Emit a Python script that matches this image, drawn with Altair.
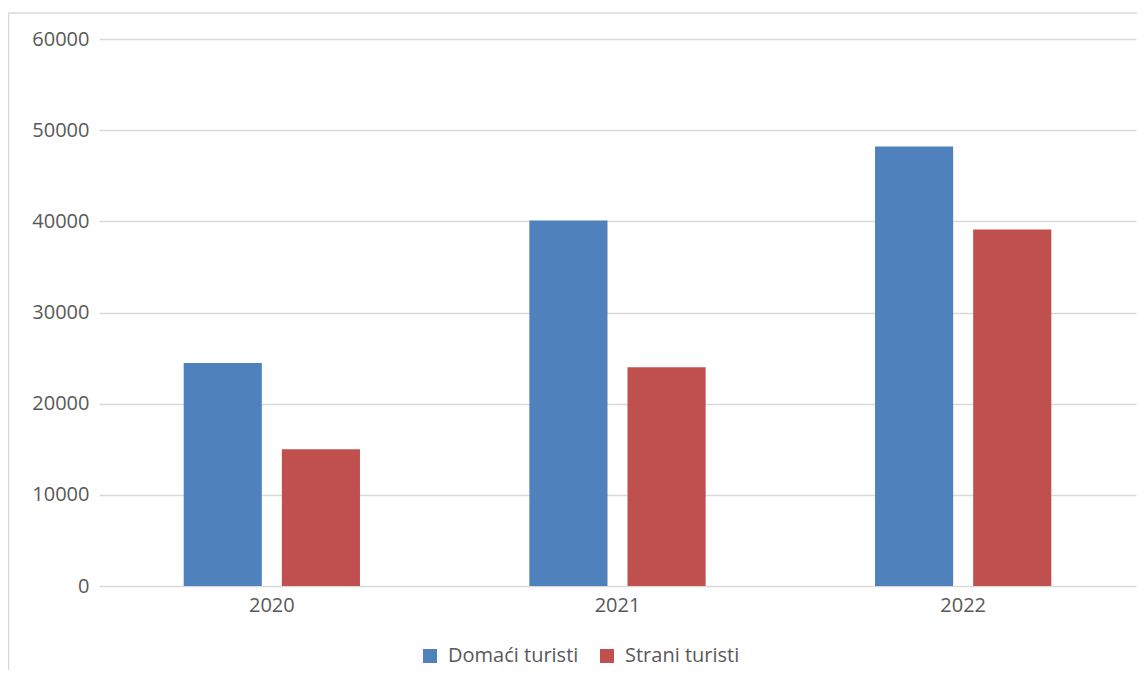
import altair as alt
import pandas as pd

years = ["2020", "2021", "2022"]
series = ["Domaći turisti", "Strani turisti"]
domaci = [24450, 40100, 48200]
strani = [15000, 24000, 39100]
colors = ["#4F81BD", "#C0504D"]

rows = []
for i, y in enumerate(years):
    rows.append({"godina": y, "serija": series[0], "vrijednost": domaci[i]})
    rows.append({"godina": y, "serija": series[1], "vrijednost": strani[i]})
df = pd.DataFrame(rows)

FONT = "Open Sans"
TXT = "#595959"
GRID = "#d9d9d9"
FS = 20
LFS = 20

bars = alt.Chart(df).mark_bar().encode(
    x=alt.X("godina:N", sort=years, title=None,
            scale=alt.Scale(paddingInner=0.49, paddingOuter=0.245),
            axis=alt.Axis(labelAngle=0, domain=False, ticks=False, labelPadding=9,
                          labelFontSize=FS, labelColor=TXT, labelFont=FONT)),
    xOffset=alt.XOffset("serija:N", sort=series,
                        scale=alt.Scale(paddingInner=0.204, paddingOuter=0)),
    y=alt.Y("vrijednost:Q", title=None,
            scale=alt.Scale(domain=[0, 60000], nice=False),
            axis=alt.Axis(values=[0, 10000, 20000, 30000, 40000, 50000, 60000],
                          format="d",
                          domain=False, ticks=False, labelPadding=10,
                          labelFontSize=FS, labelColor=TXT, labelFont=FONT,
                          gridColor=GRID, gridWidth=1.3)),
    color=alt.Color("serija:N", sort=series,
                    scale=alt.Scale(domain=series, range=colors),
                    legend=alt.Legend(title=None, orient="none", direction="horizontal",
                                      legendX=321, legendY=607,
                                      symbolType="square", symbolSize=196,
                                      symbolStrokeWidth=0, symbolOpacity=1,
                                      labelFontSize=LFS, labelColor=TXT, labelFont=FONT,
                                      labelOffset=8, columnPadding=18)),
)

one = alt.Data(values=[{}])
top_border = alt.Chart(one).mark_rule(color=GRID, strokeWidth=1.5, clip=False).encode(
    x=alt.value(-90.5), x2=alt.value(1200), y=alt.value(-26),
)
left_border = alt.Chart(one).mark_rule(color=GRID, strokeWidth=1.5, clip=False).encode(
    x=alt.value(-90.5), y=alt.value(-26), y2=alt.value(800),
)

chart = alt.layer(top_border, left_border, bars).properties(
    width=1037, height=547,
    autosize=alt.AutoSizeParams(type="none"),
    padding={"left": 91, "top": 31, "right": 1, "bottom": 84},
).configure(background="white").configure_view(stroke=None)

chart.save("out.html", embed_options={"renderer": "svg", "actions": False})
